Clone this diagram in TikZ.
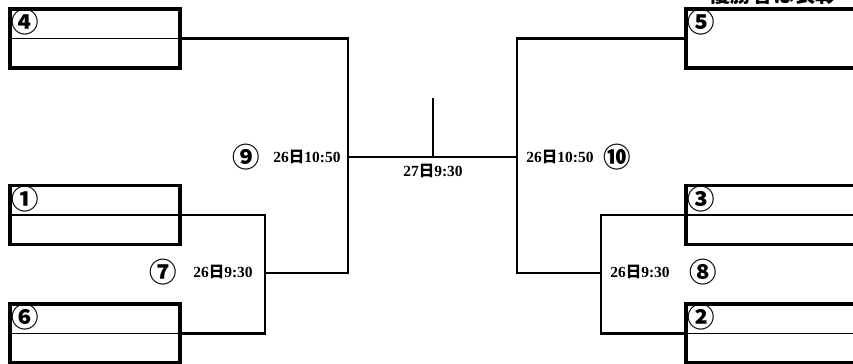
\documentclass[tikz,border=0pt]{standalone}
\usepackage{fontspec}
\setmainfont{Liberation Serif}
\newfontfamily\jp{Noto Sans CJK JP}
\usetikzlibrary{positioning}
\tikzset{
  team/.style={draw,line width=2.2pt,minimum width=4.25cm,minimum height=1.475cm,inner sep=0pt},
  ln/.style={line width=2pt},
  sep/.style={line width=0.8pt},
  num/.style={font=\jp\bfseries\fontsize{19.5}{19.5}\selectfont,inner sep=0pt},
  tm/.style={font=\bfseries\fontsize{11}{11}\selectfont,inner sep=0pt},
}
\newcommand{\hi}{{\jp\bfseries 日}}
\begin{document}
\begin{tikzpicture}[x=0.025cm,y=-0.025cm]
\useasboundingbox (0,0) rectangle (853,363);
% teams
\node[team] (t4) at (95,38.5)  {};
\node[team] (t1) at (95,215)   {};
\node[team] (t6) at (95,333.5) {};
\node[team] (t5) at (771,38.5) {};
\node[team] (t3) at (771,215)  {};
\node[team] (t2) at (771,333.5){};
\draw[sep] (t4.west) -- (t4.east);
\draw[sep] (t1.west) -- (t1.east);
\draw[sep] (t6.west) -- (t6.east);
\draw[sep] (t3.west) -- (t3.east);
\draw[sep] (t2.west) -- (t2.east);
\node[num] (n4) at ([shift={(17,15)}]t4.north west) {④};
\node[num] (n1) at ([shift={(17,15)}]t1.north west) {①};
\node[num] (n6) at ([shift={(17,15)}]t6.north west) {⑥};
\node[num] (n5) at ([shift={(17,15)}]t5.north west) {⑤};
\node[num] (n3) at ([shift={(17,15)}]t3.north west) {③};
\node[num] (n2) at ([shift={(17,15)}]t2.north west) {②};
\node[font=\jp\bfseries\fontsize{15}{15}\selectfont,anchor=south,inner sep=0pt] (ttl) at (773,5) {優勝者は表彰};
% matches
\coordinate (j9)  at (348,157);
\coordinate (j10) at (517,157);
\coordinate (m7)  at (265,273);
\coordinate (m8)  at (601,273);
\coordinate (ft)  at (433,98);
\node[num] (n9)  at (246,157) {⑨};
\node[tm]  (d9)  at (307,157) {26\hi10:50};
\node[tm]  (df)  at (433,171) {27\hi9:30};
\node[tm]  (d10) at (560,157) {26\hi10:50};
\node[num] (n10) at (617,157) {⑩};
\node[num] (n7)  at (163,272) {⑦};
\node[tm]  (d7)  at (223,272) {26\hi9:30};
\node[tm]  (d8)  at (640,272) {26\hi9:30};
\node[num] (n8)  at (703,272) {⑧};
% lines
\draw[ln] (t4.east) -| (j9) |- (m7);
\draw[ln] (t1.east) -| (m7) |- (t6.east);
\draw[ln] (t5.west) -| (j10) |- (m8);
\draw[ln] (t3.west) -| (m8) |- (t2.west);
\draw[ln] (j9) -- (j10);
\draw[ln] (ft) -- (ft |- j9);
\end{tikzpicture}
\end{document}
